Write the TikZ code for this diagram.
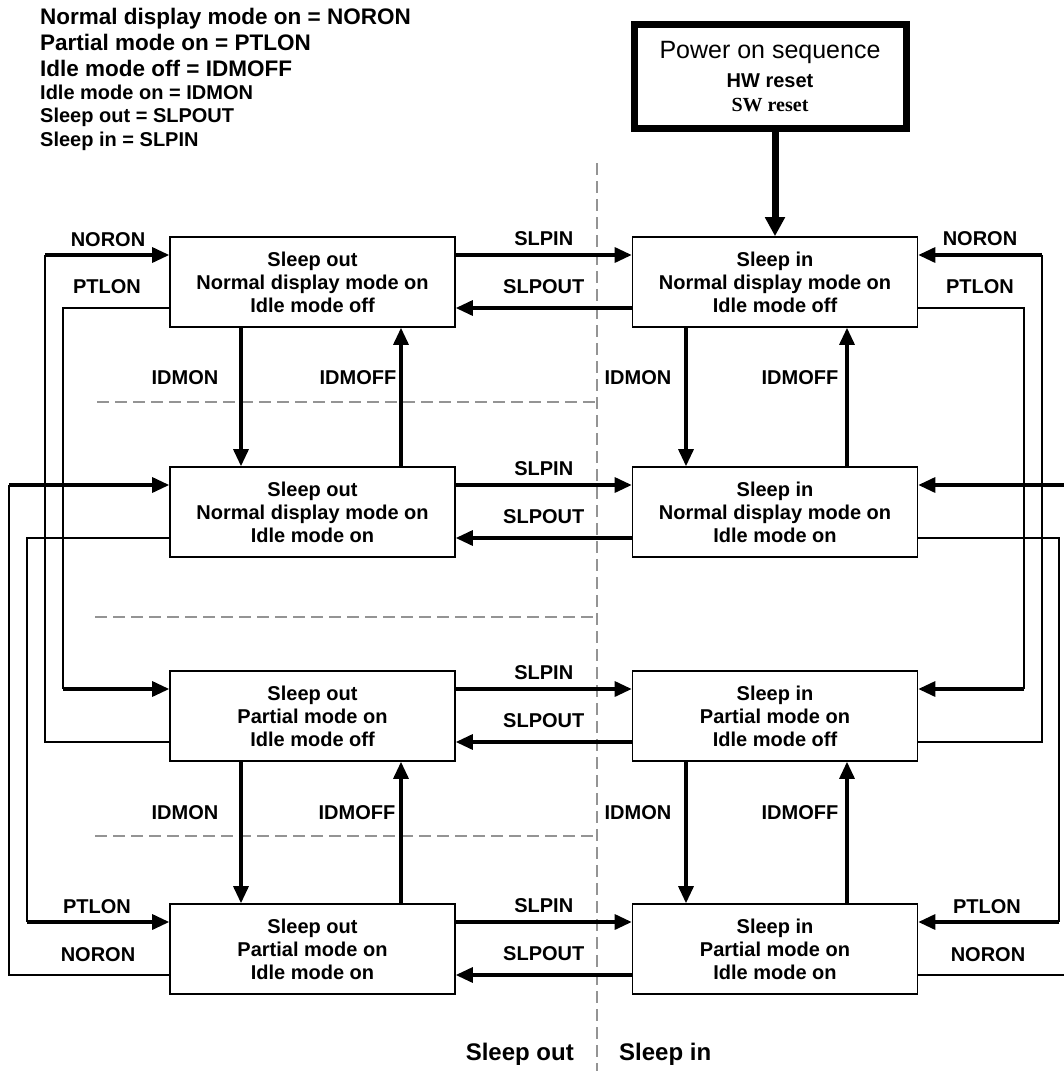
\documentclass[tikz,border=0pt]{standalone}
\usepackage{fontspec}
\setmainfont{Liberation Sans}
\newfontfamily\seriffam{Liberation Serif}
\usetikzlibrary{arrows.meta}

\begin{document}
\begin{tikzpicture}[x=1pt, y=-1pt, font=\bfseries\fontsize{20}{23}\selectfont,
 state/.style={draw,line width=1.6pt,align=center,minimum width=285pt,minimum height=90pt,inner sep=0pt},
 pwrbox/.style={draw,line width=7pt,align=center,minimum width=272pt,minimum height=104pt,inner sep=0pt},
 arr/.style={-{Triangle[length=17pt,width=15pt]},line width=3.2pt},
 pwrarr/.style={-{Triangle[length=19pt,width=19pt]},line width=7pt},
 wire/.style={line width=1.6pt},
 sep/.style={draw=black!42,line width=2pt,dash pattern=on 12pt off 6pt},
 lbl/.style={inner sep=0pt},
 key/.style={anchor=base west,inner sep=0pt}]
\useasboundingbox (0,0) rectangle (1064,1071);

% legend
\node[key,font=\bfseries\fontsize{22.5}{26}\selectfont] (k1) at (40,24) {Normal display mode on = NORON};
\node[key,font=\bfseries\fontsize{22.5}{26}\selectfont] (k2) at (40,50) {Partial mode on = PTLON};
\node[key,font=\bfseries\fontsize{22.5}{26}\selectfont] (k3) at (40,76) {Idle mode off = IDMOFF};
\node[key] (k4) at (40,99) {Idle mode on = IDMON};
\node[key] (k5) at (40,122) {Sleep out = SLPOUT};
\node[key] (k6) at (40,146) {Sleep in = SLPIN};

% separators
\draw[sep] (597,163) -- (597,1080);
\draw[sep] (97,402) -- (597,402);
\draw[sep] (95,617) -- (597,617);
\draw[sep] (95,836) -- (597,836);

% states
\node[pwrbox] (pwr) at (770,76.5) {{\mdseries\fontsize{25}{28}\selectfont Power on sequence}\\[6pt] HW reset\\[1pt] {\seriffam SW reset}};
\node[state] (so1) at (312.5,282) {Sleep out\\Normal display mode on\\Idle mode off};
\node[state] (si1) at (775,282) {Sleep in\\Normal display mode on\\Idle mode off};
\node[state] (so2) at (312.5,512) {Sleep out\\Normal display mode on\\Idle mode on};
\node[state] (si2) at (775,512) {Sleep in\\Normal display mode on\\Idle mode on};
\node[state] (so3) at (312.5,716) {Sleep out\\Partial mode on\\Idle mode off};
\node[state] (si3) at (775,716) {Sleep in\\Partial mode on\\Idle mode off};
\node[state] (so4) at (312.5,949) {Sleep out\\Partial mode on\\Idle mode on};
\node[state] (si4) at (775,949) {Sleep in\\Partial mode on\\Idle mode on};

\draw[pwrarr] (pwr.south -| si1.north) -- (si1.north);

% sleep in / sleep out
\draw[arr] ([yshift=27pt]so1.east) -- node[lbl,yshift=16pt] (in1) {SLPIN} ([yshift=27pt]si1.west);
\draw[arr] ([yshift=-26pt]si1.west) -- node[lbl,yshift=21pt] (out1) {SLPOUT} ([yshift=-26pt]so1.east);
\draw[arr] ([yshift=27pt]so2.east) -- node[lbl,yshift=16pt] (in2) {SLPIN} ([yshift=27pt]si2.west);
\draw[arr] ([yshift=-26pt]si2.west) -- node[lbl,yshift=21pt] (out2) {SLPOUT} ([yshift=-26pt]so2.east);
\draw[arr] ([yshift=27pt]so3.east) -- node[lbl,yshift=16pt] (in3) {SLPIN} ([yshift=27pt]si3.west);
\draw[arr] ([yshift=-26pt]si3.west) -- node[lbl,yshift=21pt] (out3) {SLPOUT} ([yshift=-26pt]so3.east);
\draw[arr] ([yshift=27pt]so4.east) -- node[lbl,yshift=16pt] (in4) {SLPIN} ([yshift=27pt]si4.west);
\draw[arr] ([yshift=-26pt]si4.west) -- node[lbl,yshift=21pt] (out4) {SLPOUT} ([yshift=-26pt]so4.east);

% idle on / idle off
\draw[arr] ([xshift=-71.5pt]so1.south) -- ([xshift=-71.5pt]so2.north);
\draw[arr] ([xshift=88.5pt]so2.north) -- ([xshift=88.5pt]so1.south);
\draw[arr] ([xshift=-89pt]si1.south) -- ([xshift=-89pt]si2.north);
\draw[arr] ([xshift=72pt]si2.north) -- ([xshift=72pt]si1.south);
\draw[arr] ([xshift=-71.5pt]so3.south) -- ([xshift=-71.5pt]so4.north);
\draw[arr] ([xshift=88.5pt]so4.north) -- ([xshift=88.5pt]so3.south);
\draw[arr] ([xshift=-89pt]si3.south) -- ([xshift=-89pt]si4.north);
\draw[arr] ([xshift=72pt]si4.north) -- ([xshift=72pt]si3.south);
\node[lbl] (on1) at (185,378) {IDMON};
\node[lbl] (off1) at (358,378) {IDMOFF};
\node[lbl] (on2) at (638,378) {IDMON};
\node[lbl] (off2) at (800,378) {IDMOFF};
\node[lbl] (on3) at (185,813) {IDMON};
\node[lbl] (off3) at (357,813) {IDMOFF};
\node[lbl] (on4) at (638,813) {IDMON};
\node[lbl] (off4) at (800,813) {IDMOFF};

% normal / partial, left side
\coordinate (wl1) at (45,255);
\coordinate (wl2) at (63,689);
\coordinate (wl3) at (9,485);
\coordinate (wl4) at (27,922);
\draw[wire] ([yshift=-26pt]so3.west) -| (wl1);
\draw[arr] (wl1) -- (wl1 -| so1.west);
\draw[wire] ([yshift=-26pt]so1.west) -| (wl2);
\draw[arr] (wl2) -- (wl2 -| so3.west);
\draw[wire] ([yshift=-26pt]so4.west) -| (wl3);
\draw[arr] (wl3) -- (wl3 -| so2.west);
\draw[wire] ([yshift=-26pt]so2.west) -| (wl4);
\draw[arr] (wl4) -- (wl4 -| so4.west);
\node[lbl] (nl1) at (108,240) {NORON};
\node[lbl] (pl1) at (107,287) {PTLON};
\node[lbl] (pl2) at (97,907) {PTLON};
\node[lbl] (nl2) at (98,955) {NORON};

% normal / partial, right side
\coordinate (wr1) at (1042,255);
\coordinate (wr2) at (1024,689);
\coordinate (wr3) at (1075,485);
\coordinate (wr4) at (1059,922);
\draw[wire] ([yshift=-26pt]si3.east) -| (wr1);
\draw[arr] (wr1) -- (wr1 -| si1.east);
\draw[wire] ([yshift=-26pt]si1.east) -| (wr2);
\draw[arr] (wr2) -- (wr2 -| si3.east);
\draw[wire] ([yshift=-26pt]si4.east) -| (wr3);
\draw[arr] (wr3) -- (wr3 -| si2.east);
\draw[wire] ([yshift=-26pt]si2.east) -| (wr4);
\draw[arr] (wr4) -- (wr4 -| si4.east);
\node[lbl] (nr1) at (980,239) {NORON};
\node[lbl] (pr1) at (980,287) {PTLON};
\node[lbl] (pr2) at (987,907) {PTLON};
\node[lbl] (nr2) at (988,955) {NORON};

% sides
\node[anchor=base east,inner sep=0pt,font=\bfseries\fontsize{24}{28}\selectfont] (sdout) at (574,1060) {Sleep out};
\node[anchor=base west,inner sep=0pt,font=\bfseries\fontsize{24}{28}\selectfont] (sdin) at (619,1060) {Sleep in};
\end{tikzpicture}
\end{document}
